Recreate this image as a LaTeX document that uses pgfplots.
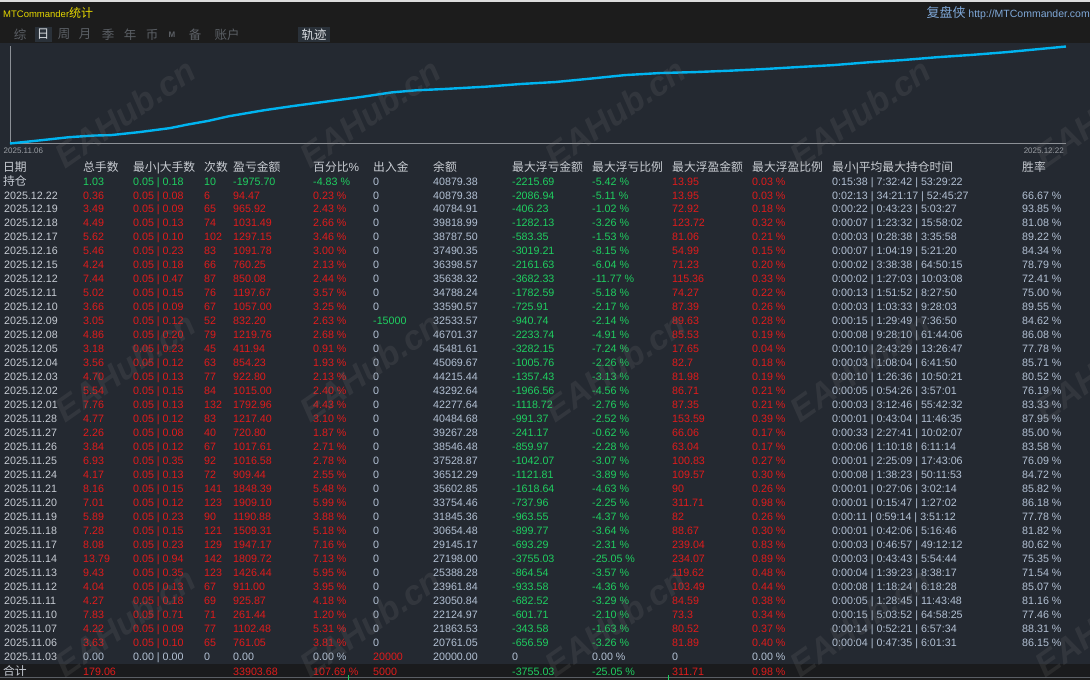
\documentclass[border=0pt]{standalone}
\usepackage{pgfplots}
\pgfplotsset{compat=1.18}
\usepackage{fontspec}
\setmainfont{Liberation Sans}
\newfontfamily\cjk{Noto Sans CJK SC}
\definecolor{bgtop}{HTML}{1C1C1C}
\definecolor{topln}{HTML}{DCDCDC}
\definecolor{panel}{HTML}{242931}
\definecolor{sumbg}{HTML}{1A1B1D}
\definecolor{sepln}{HTML}{5A5E64}
\definecolor{rd}{HTML}{E01B1B}
\definecolor{gn}{HTML}{1FCF60}
\definecolor{bl}{HTML}{B3C1D4}
\definecolor{dt}{HTML}{C6CBD3}
\definecolor{hd}{HTML}{C9CDD3}
\definecolor{ln}{HTML}{00B4F0}
\definecolor{ttl}{HTML}{E6D800}
\definecolor{tabc}{HTML}{5C6066}
\definecolor{tabon}{HTML}{D8DCE0}
\definecolor{tabhl}{HTML}{2A3139}
\definecolor{urlc}{HTML}{7FA8D8}
\definecolor{axc}{HTML}{8C9096}
\definecolor{lbl}{HTML}{9A9EA4}
\newcommand\fs{\fontsize{10.7bp}{12bp}\selectfont}
\newcommand\fc{\cjk\fontsize{11.8bp}{13bp}\selectfont}
\tikzset{T/.style={anchor=base west, inner sep=0pt, font=\fs},
         H/.style={anchor=base west, inner sep=0pt, font=\fc, hd},
         TB/.style={anchor=center, inner sep=0pt, font=\cjk\fontsize{12.5bp}{13bp}\selectfont}}
\newcount\ri
\ri=0
\newcommand\RA[8]{%
  \pgfmathsetmacro\ry{199+13.97*\the\ri}%
  \node[T,dt] at (4,\ry) {#1};
  \node[T,rd] at (83,\ry) {#2};
  \node[T,rd] at (133,\ry) {#3};
  \node[T,rd] at (204,\ry) {#4};
  \node[T,rd] at (233,\ry) {#5};
  \node[T,rd] at (313,\ry) {#6 \%};
  \node[T,bl] at (373,\ry) {#7};
  \node[T,bl] at (433,\ry) {#8};
}
\newcommand\RB[6]{%
  \node[T,gn] at (512,\ry) {#1};
  \node[T,gn] at (592,\ry) {#2 \%};
  \node[T,rd] at (672,\ry) {#3};
  \node[T,rd] at (752,\ry) {#4 \%};
  \node[T,bl] at (832,\ry) {#5};
  \node[T,bl] at (1022,\ry) {#6 \%};
  \global\advance\ri by 1
}
\begin{document}
\begin{tikzpicture}
\begin{scope}[x=1bp,y=-1bp]
\fill[bgtop] (0,0) rectangle (1090,680);
\fill[topln] (0,0) rectangle (1090,1.6);
\fill[panel] (0,43) rectangle (1090,663.5);
\fill[sumbg] (0,663.5) rectangle (1090,677);
\draw[sepln, line width=1bp] (0,677.5) -- (1090,677.5);
\draw[gn, line width=1bp] (348.5,675) -- (348.5,680);
\draw[gn, line width=1bp] (668.5,675) -- (668.5,680);
% title bar
\node[anchor=base west, inner sep=0pt, ttl, font=\fontsize{9.5bp}{11bp}\selectfont] at (3,17) {MTCommander{\cjk\fontsize{12bp}{13bp}\selectfont 统计}};
\node[anchor=base east, inner sep=0pt, urlc, font=\fontsize{10.5bp}{12bp}\selectfont] at (1090,17.5) {{\cjk\fontsize{13bp}{14bp}\selectfont 复盘侠} http://MTCommander.com};
% tabs
\fill[tabhl] (35,27) rectangle (52,42);
\fill[tabhl] (298,27) rectangle (330,42);
\node[TB,tabc] at (20,34.5) {综};
\node[TB,tabon] at (43,34.5) {日};
\node[TB,tabc] at (64,34.5) {周};
\node[TB,tabc] at (85,34.5) {月};
\node[TB,tabc] at (108,34.5) {季};
\node[TB,tabc] at (130,34.5) {年};
\node[TB,tabc] at (152,34.5) {币};
\node[anchor=center, inner sep=0pt, tabc, font=\fontsize{8bp}{9bp}\selectfont\bfseries] at (172,34.5) {M};
\node[TB,tabc] at (195,34.5) {备};
\node[TB,tabc] at (227,34.5) {账户};
\node[TB,tabon] at (314,34.5) {轨迹};
\end{scope}

\begin{axis}[
  at={(10bp,-143.5bp)}, anchor=south west,
  scale only axis, width=1056bp, height=97bp,
  xmin=0, xmax=46, ymin=0, ymax=112.5,
  axis x line=bottom, axis y line=left,
  axis line style={-, draw=axc, line width=1bp},
  xtick=\empty, ytick=\empty,
  clip=false,
]
\addplot[ln, line width=2.4bp] coordinates {
(0,0) (1.36,3.8) (2.57,7.3) (3.63,9.2) (4.39,9.7) (5.60,13.1) (6.96,17.8)
(7.72,21.9) (8.63,26.2) (9.53,31.6) (11.05,38.5) (12.26,43.2) (13.77,48.6)
(15.28,53.9) (16.64,59.3) (17.70,61.7) (18.91,63.2) (20.73,65.9) (22.24,69.0)
(23.76,71.3) (25.27,75.2) (26.78,79.3) (28.30,81.7) (29.81,82.8) (31.32,84.4)
(32.83,86.3) (34.35,88.7) (35.86,90.9) (37.37,94.1) (38.89,96.8) (40.40,100.1)
(41.91,102.8) (43.43,106.0) (44.94,109.8) (46,112.5)};
\end{axis}

\begin{scope}[x=1bp,y=-1bp]
\node[anchor=west, inner sep=0pt, lbl, font=\fontsize{8bp}{9bp}\selectfont] at (3.5,150.5) {2025.11.06};
\node[anchor=east, inner sep=0pt, lbl, font=\fontsize{8bp}{9bp}\selectfont] at (1064,150.5) {2025.12.22};
% header
\node[H] at (3,171.6) {日期};
\node[H] at (83,171.6) {总手数};
\node[H] at (133,171.6) {最小{\fontspec{Liberation Sans}|}大手数};
\node[H] at (204,171.6) {次数};
\node[H] at (233,171.6) {盈亏金额};
\node[H] at (313,171.6) {百分比{\fontspec{Liberation Sans}\%}};
\node[H] at (373,171.6) {出入金};
\node[H] at (433,171.6) {余额};
\node[H] at (512,171.6) {最大浮亏金额};
\node[H] at (592,171.6) {最大浮亏比例};
\node[H] at (672,171.6) {最大浮盈金额};
\node[H] at (752,171.6) {最大浮盈比例};
\node[H] at (832,171.6) {最小{\fontspec{Liberation Sans}|}平均最大持仓时间};
\node[H] at (1022,171.6) {胜率};
% open positions row
\node[H,dt] at (3,185.6) {持仓};
\node[T,gn] at (83,185) {1.03};
\node[T,gn] at (133,185) {0.05 | 0.18};
\node[T,gn] at (204,185) {10};
\node[T,gn] at (233,185) {-1975.70};
\node[T,gn] at (313,185) {-4.83 \%};
\node[T,bl] at (373,185) {0};
\node[T,bl] at (433,185) {40879.38};
\node[T,gn] at (512,185) {-2215.69};
\node[T,gn] at (592,185) {-5.42 \%};
\node[T,rd] at (672,185) {13.95};
\node[T,rd] at (752,185) {0.03 \%};
\node[T,bl] at (832,185) {0:15:38 | 7:32:42 | 53:29:22};
% daily rows
\RA{2025.12.22}{0.36}{0.05 | 0.08}{6}{94.47}{0.23}{0}{40879.38}\RB{-2086.94}{-5.11}{13.95}{0.03}{0:02:13 | 34:21:17 | 52:45:27}{66.67}
\RA{2025.12.19}{3.49}{0.05 | 0.09}{65}{965.92}{2.43}{0}{40784.91}\RB{-406.23}{-1.02}{72.92}{0.18}{0:00:22 | 0:43:23 | 5:03:27}{93.85}
\RA{2025.12.18}{4.49}{0.05 | 0.13}{74}{1031.49}{2.66}{0}{39818.99}\RB{-1282.13}{-3.26}{123.72}{0.32}{0:00:07 | 1:23:32 | 15:58:02}{81.08}
\RA{2025.12.17}{5.62}{0.05 | 0.10}{102}{1297.15}{3.46}{0}{38787.50}\RB{-583.35}{-1.53}{81.06}{0.21}{0:00:03 | 0:28:38 | 3:35:58}{89.22}
\RA{2025.12.16}{5.46}{0.05 | 0.23}{83}{1091.78}{3.00}{0}{37490.35}\RB{-3019.21}{-8.15}{54.99}{0.15}{0:00:07 | 1:04:19 | 5:21:20}{84.34}
\RA{2025.12.15}{4.24}{0.05 | 0.18}{66}{760.25}{2.13}{0}{36398.57}\RB{-2161.63}{-6.04}{71.23}{0.20}{0:00:02 | 3:38:38 | 64:50:15}{78.79}
\RA{2025.12.12}{7.44}{0.05 | 0.47}{87}{850.08}{2.44}{0}{35638.32}\RB{-3682.33}{-11.77}{115.36}{0.33}{0:00:02 | 1:27:03 | 10:03:08}{72.41}
\RA{2025.12.11}{5.02}{0.05 | 0.15}{76}{1197.67}{3.57}{0}{34788.24}\RB{-1782.59}{-5.18}{74.27}{0.22}{0:00:13 | 1:51:52 | 8:27:50}{75.00}
\RA{2025.12.10}{3.66}{0.05 | 0.09}{67}{1057.00}{3.25}{0}{33590.57}\RB{-725.91}{-2.17}{87.39}{0.26}{0:00:03 | 1:03:33 | 9:28:03}{89.55}
\RA{2025.12.09}{3.05}{0.05 | 0.12}{52}{832.20}{2.63}{\color{gn}-15000}{32533.57}\RB{-940.74}{-2.14}{89.63}{0.28}{0:00:15 | 1:29:49 | 7:36:50}{84.62}
\RA{2025.12.08}{4.86}{0.05 | 0.20}{79}{1219.76}{2.68}{0}{46701.37}\RB{-2233.74}{-4.91}{85.53}{0.19}{0:00:08 | 9:28:10 | 61:44:06}{86.08}
\RA{2025.12.05}{3.18}{0.05 | 0.23}{45}{411.94}{0.91}{0}{45481.61}\RB{-3282.15}{-7.24}{17.65}{0.04}{0:00:10 | 2:43:29 | 13:26:47}{77.78}
\RA{2025.12.04}{3.56}{0.05 | 0.12}{63}{854.23}{1.93}{0}{45069.67}\RB{-1005.76}{-2.26}{82.7}{0.18}{0:00:03 | 1:08:04 | 6:41:50}{85.71}
\RA{2025.12.03}{4.70}{0.05 | 0.13}{77}{922.80}{2.13}{0}{44215.44}\RB{-1357.43}{-3.13}{81.98}{0.19}{0:00:10 | 1:26:36 | 10:50:21}{80.52}
\RA{2025.12.02}{5.54}{0.05 | 0.15}{84}{1015.00}{2.40}{0}{43292.64}\RB{-1966.56}{-4.56}{86.71}{0.21}{0:00:05 | 0:54:26 | 3:57:01}{76.19}
\RA{2025.12.01}{7.76}{0.05 | 0.13}{132}{1792.96}{4.43}{0}{42277.64}\RB{-1118.72}{-2.76}{87.35}{0.21}{0:00:03 | 3:12:46 | 55:42:32}{83.33}
\RA{2025.11.28}{4.77}{0.05 | 0.12}{83}{1217.40}{3.10}{0}{40484.68}\RB{-991.37}{-2.52}{153.59}{0.39}{0:00:01 | 0:43:04 | 11:46:35}{87.95}
\RA{2025.11.27}{2.26}{0.05 | 0.08}{40}{720.80}{1.87}{0}{39267.28}\RB{-241.17}{-0.62}{66.06}{0.17}{0:00:33 | 2:27:41 | 10:02:07}{85.00}
\RA{2025.11.26}{3.84}{0.05 | 0.12}{67}{1017.61}{2.71}{0}{38546.48}\RB{-859.97}{-2.28}{63.04}{0.17}{0:00:06 | 1:10:18 | 6:11:14}{83.58}
\RA{2025.11.25}{6.93}{0.05 | 0.35}{92}{1016.58}{2.78}{0}{37528.87}\RB{-1042.07}{-3.07}{100.83}{0.27}{0:00:01 | 2:25:09 | 17:43:06}{76.09}
\RA{2025.11.24}{4.17}{0.05 | 0.13}{72}{909.44}{2.55}{0}{36512.29}\RB{-1121.81}{-3.89}{109.57}{0.30}{0:00:08 | 1:38:23 | 50:11:53}{84.72}
\RA{2025.11.21}{8.16}{0.05 | 0.15}{141}{1848.39}{5.48}{0}{35602.85}\RB{-1618.64}{-4.63}{90}{0.26}{0:00:01 | 0:27:06 | 3:02:14}{85.82}
\RA{2025.11.20}{7.01}{0.05 | 0.12}{123}{1909.10}{5.99}{0}{33754.46}\RB{-737.96}{-2.25}{311.71}{0.98}{0:00:01 | 0:15:47 | 1:27:02}{86.18}
\RA{2025.11.19}{5.89}{0.05 | 0.23}{90}{1190.88}{3.88}{0}{31845.36}\RB{-963.55}{-4.37}{82}{0.26}{0:00:11 | 0:59:14 | 3:51:12}{77.78}
\RA{2025.11.18}{7.28}{0.05 | 0.15}{121}{1509.31}{5.18}{0}{30654.48}\RB{-899.77}{-3.64}{88.67}{0.30}{0:00:01 | 0:42:06 | 5:16:46}{81.82}
\RA{2025.11.17}{8.08}{0.05 | 0.23}{129}{1947.17}{7.16}{0}{29145.17}\RB{-693.29}{-2.31}{239.04}{0.83}{0:00:03 | 0:46:57 | 49:12:12}{80.62}
\RA{2025.11.14}{13.79}{0.05 | 0.94}{142}{1809.72}{7.13}{0}{27198.00}\RB{-3755.03}{-25.05}{234.07}{0.89}{0:00:03 | 0:43:43 | 5:54:44}{75.35}
\RA{2025.11.13}{9.43}{0.05 | 0.35}{123}{1426.44}{5.95}{0}{25388.28}\RB{-864.54}{-3.57}{119.62}{0.48}{0:00:04 | 1:39:23 | 8:38:17}{71.54}
\RA{2025.11.12}{4.04}{0.05 | 0.13}{67}{911.00}{3.95}{0}{23961.84}\RB{-933.58}{-4.36}{103.49}{0.44}{0:00:08 | 1:18:24 | 6:18:28}{85.07}
\RA{2025.11.11}{4.27}{0.05 | 0.18}{69}{925.87}{4.18}{0}{23050.84}\RB{-682.52}{-3.29}{84.59}{0.38}{0:00:05 | 1:28:45 | 11:43:48}{81.16}
\RA{2025.11.10}{7.83}{0.05 | 0.71}{71}{261.44}{1.20}{0}{22124.97}\RB{-601.71}{-2.10}{73.3}{0.34}{0:00:15 | 5:03:52 | 64:58:25}{77.46}
\RA{2025.11.07}{4.22}{0.05 | 0.09}{77}{1102.48}{5.31}{0}{21863.53}\RB{-343.58}{-1.63}{80.52}{0.37}{0:00:14 | 0:52:21 | 6:57:34}{88.31}
\RA{2025.11.06}{3.63}{0.05 | 0.10}{65}{761.05}{3.81}{0}{20761.05}\RB{-656.59}{-3.26}{81.89}{0.40}{0:00:04 | 0:47:35 | 6:01:31}{86.15}
% 2025.11.03 row
\node[T,dt] at (4,660) {2025.11.03};
\node[T,bl] at (83,660) {0.00};
\node[T,bl] at (133,660) {0.00 | 0.00};
\node[T,bl] at (204,660) {0};
\node[T,bl] at (233,660) {0.00};
\node[T,bl] at (313,660) {0.00 \%};
\node[T,rd] at (373,660) {20000};
\node[T,bl] at (433,660) {20000.00};
\node[T,bl] at (512,660) {0};
\node[T,bl] at (592,660) {0.00 \%};
\node[T,bl] at (672,660) {0};
\node[T,bl] at (752,660) {0.00 \%};
% total row
\node[H,dt] at (3,675.3) {合计};
\node[T,rd] at (83,675) {179.06};
\node[T,rd] at (233,675) {33903.68};
\node[T,rd] at (313,675) {107.69 \%};
\node[T,rd] at (373,675) {5000};
\node[T,gn] at (512,675) {-3755.03};
\node[T,gn] at (592,675) {-25.05 \%};
\node[T,rd] at (672,675) {311.71};
\node[T,rd] at (752,675) {0.98 \%};
% watermarks
\foreach \wy in {113,367,622}{
  \foreach \wx in {125,370,615,860,1105}{
    \node[rotate=35, inner sep=0pt, text=gray, opacity=0.16,
      font=\fontsize{34bp}{34bp}\selectfont\bfseries\itshape] at (\wx,\wy) {EAHub.cn};
  }
}
\end{scope}
\pgfresetboundingbox
\useasboundingbox (0,0) rectangle (1090bp,-680bp);
\end{tikzpicture}
\end{document}
